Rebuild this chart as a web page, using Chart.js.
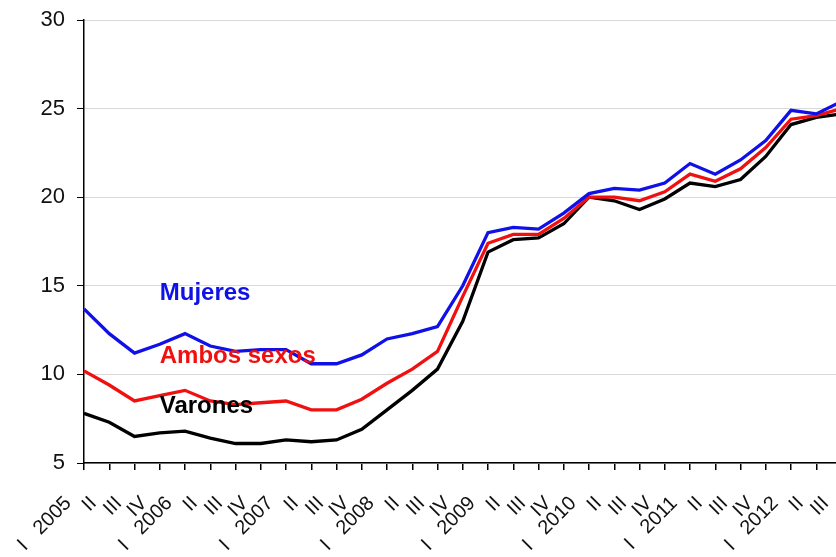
<!DOCTYPE html>
<html>
<head>
<meta charset="utf-8">
<script src="https://cdn.jsdelivr.net/npm/chart.js@4/dist/chart.umd.min.js"></script>
<style>
  html, body { margin: 0; padding: 0; background: #fff; overflow: hidden; width: 836px; height: 557px; }
  #wrap { position: relative; width: 850px; height: 557px; }
</style>
</head>
<body>
<div id="wrap"><canvas id="c" width="850" height="557"></canvas></div>
<script>
const categories = [
  "I   2005", "II", "III", "IV",
  "I   2006", "II", "III", "IV",
  "I   2007", "II", "III", "IV",
  "I   2008", "II", "III", "IV",
  "I   2009", "II", "III", "IV",
  "I   2010", "II", "III", "IV",
  "I   2011", "II", "III", "IV",
  "I   2012", "II", "III"
];
const mujeres = [13.7, 12.3, 11.2, 11.7, 12.3, 11.6, 11.3, 11.4, 11.4, 10.6, 10.6, 11.1, 12.0, 12.3, 12.7, 15.0, 18.0, 18.3, 18.2, 19.1, 20.2, 20.5, 20.4, 20.8, 21.9, 21.3, 22.1, 23.2, 24.9, 24.7, 25.4];
const ambos   = [10.2, 9.4, 8.5, 8.8, 9.1, 8.5, 8.3, 8.4, 8.5, 8.0, 8.0, 8.6, 9.5, 10.3, 11.3, 14.4, 17.4, 17.9, 17.9, 18.8, 20.0, 20.0, 19.8, 20.3, 21.3, 20.9, 21.6, 22.8, 24.4, 24.6, 25.0];
const varones = [7.8, 7.3, 6.5, 6.7, 6.8, 6.4, 6.1, 6.1, 6.3, 6.2, 6.3, 6.9, 8.0, 9.1, 10.3, 13.0, 16.9, 17.6, 17.7, 18.5, 20.0, 19.8, 19.3, 19.9, 20.8, 20.6, 21.0, 22.3, 24.1, 24.5, 24.7];
const yTicks = [5, 10, 15, 20, 25, 30];
const seriesLabels = [
  { text: "Mujeres", color: "#1010e8", xIndex: 3, y: 14.2 },
  { text: "Ambos sexos", color: "#f01010", xIndex: 3, y: 10.62 },
  { text: "Varones", color: "#000000", xIndex: 3, y: 7.8 }
];

const labelPlugin = {
  id: "seriesLabels",
  afterDatasetsDraw(chart) {
    const ctx = chart.ctx;
    const xs = chart.scales.x, ys = chart.scales.y;
    ctx.save();
    ctx.font = "bold 24px 'Liberation Sans', Arial, sans-serif";
    ctx.textAlign = "left";
    ctx.textBaseline = "alphabetic";
    seriesLabels.forEach(l => {
      ctx.fillStyle = l.color;
      ctx.fillText(l.text, xs.getPixelForValue(l.xIndex), ys.getPixelForValue(l.y));
    });
    ctx.restore();
  }
};

new Chart(document.getElementById("c"), {
  type: "line",
  data: {
    labels: categories,
    datasets: [
      { label: "Mujeres", data: mujeres, borderColor: "#1010e8", borderWidth: 3.3 },
      { label: "Ambos sexos", data: ambos, borderColor: "#f01010", borderWidth: 3.3 },
      { label: "Varones", data: varones, borderColor: "#000000", borderWidth: 3.3 }
    ]
  },
  options: {
    responsive: false,
    animation: false,
    devicePixelRatio: 1,
    layout: { padding: { left: 0, right: 8.5, top: 20, bottom: 0 } },
    elements: { point: { radius: 0 }, line: { tension: 0 } },
    plugins: { legend: { display: false }, tooltip: { enabled: false } },
    scales: {
      x: {
        type: "category",
        offset: false,
        grid: { drawOnChartArea: false, drawTicks: true, tickLength: 7, tickColor: "#000", lineWidth: 1.5 },
        border: { color: "#000", width: 1.5 },
        ticks: {
          autoSkip: false, minRotation: 45, maxRotation: 45,
          color: "#111", padding: 6,
          font: { family: "'Liberation Sans', Arial, sans-serif", size: 20 },
          callback(v, i) { return categories[i] + "    "; }
        },
        afterFit(s) { s.height = 94; s.paddingLeft = 0; s.paddingRight = 0; }
      },
      y: {
        min: 5, max: 30,
        afterBuildTicks(s) { s.ticks = yTicks.map(v => ({ value: v })); },
        grid: { color: "#d9d9d9", lineWidth: 1, tickLength: 7, tickColor: "#000" },
        border: { color: "#000", width: 1.5 },
        ticks: {
          color: "#111", padding: 12,
          font: { family: "'Liberation Sans', Arial, sans-serif", size: 22 }
        },
        afterFit(s) { s.width = 84; s.paddingTop = 0; s.paddingBottom = 0; }
      }
    }
  },
  plugins: [labelPlugin]
});
</script>
</body>
</html>
